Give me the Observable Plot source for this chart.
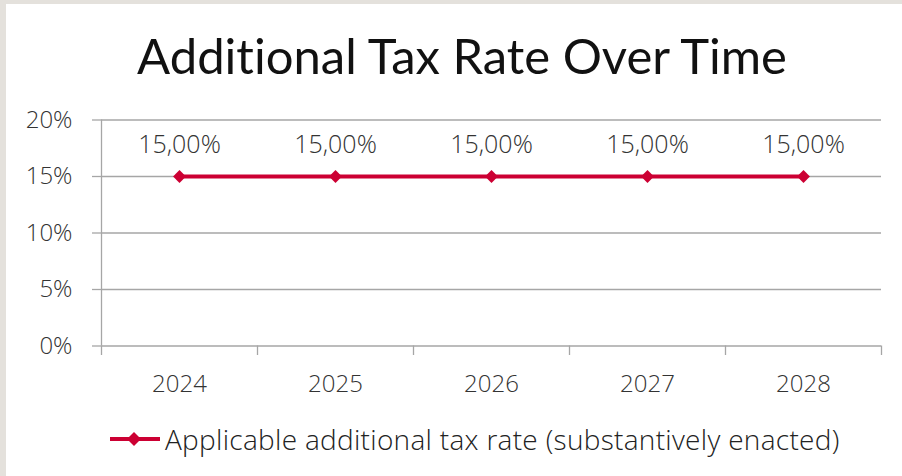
<!DOCTYPE html>
<html>
<head>
<meta charset="utf-8">
<script src="https://cdn.jsdelivr.net/npm/d3@7"></script>
<script src="https://cdn.jsdelivr.net/npm/@observablehq/plot@0.6"></script>
<style>
  html, body { margin: 0; padding: 0; width: 902px; height: 476px; overflow: hidden; background: #e4e1dc; }
  #card { position: absolute; left: 6px; top: 4px; right: 0; bottom: 0; background: #fff; }
  #title { position: absolute; left: 11px; top: 25px; width: 902px; text-align: center;
           font-family: "Lato", "Open Sans", sans-serif; font-size: 49px; line-height: 60px; color: #111; font-weight: 400;
           font-variant-ligatures: none; }
  #chart { position: absolute; left: 0; top: 100px; }
  #legend { position: absolute; left: 108px; top: 420px; display: flex; align-items: center;
            font-family: "Open Sans", sans-serif; font-weight: 300; font-size: 28px; letter-spacing: 0.3px; color: #222; }
  #legend svg { margin-right: 3px; }
</style>
</head>
<body>
<div id="card"></div>
<div id="title"></div>
<div id="chart"></div>
<div id="legend"></div>
<script>
const titleText = "Additional Tax Rate Over Time";
const years = [2024, 2025, 2026, 2027, 2028];
const rates = [15, 15, 15, 15, 15];
const yTicks = [0, 5, 10, 15, 20];
const seriesName = "Applicable additional tax rate (substantively enacted)";

const red = "#cc0033";
const gridColor = "#a6a6a6";

const data = years.map((y, i) => ({year: y, rate: rates[i]}));
const boundaries = [...years.map(y => y - 0.5), years[years.length - 1] + 0.5];
const fmtRate = v => v.toFixed(2).replace(".", ",") + "%";

document.getElementById("title").textContent = titleText;

const chart = Plot.plot({
  width: 902,
  height: 310,
  marginLeft: 101,
  marginRight: 21,
  marginTop: 19.5,
  marginBottom: 64.5,
  x: {domain: [boundaries[0], boundaries[boundaries.length - 1]]},
  y: {domain: [0, 20]},
  style: {fontFamily: "'Open Sans', sans-serif", fontSize: "24px", color: "#333", background: "transparent"},
  marks: [
    Plot.gridY(yTicks, {stroke: gridColor, strokeOpacity: 1, strokeWidth: 1.3}),
    Plot.axisY(yTicks, {label: null, tickSize: 9, tickPadding: 20, tickFormat: d => d + "%", stroke: gridColor, strokeWidth: 1.3, fill: "#333", fontWeight: 300, fontSize: 24}),
    Plot.ruleX([boundaries[0]], {y1: 0, y2: 20, stroke: gridColor, strokeWidth: 1.3}),
    Plot.axisX(boundaries, {label: null, tickSize: 9.5, tickFormat: () => "", stroke: gridColor, strokeWidth: 1.3}),
    Plot.axisX(years, {label: null, tickSize: 0, tickPadding: 29, tickFormat: d => String(d), fill: "#333", fontWeight: 300, fontSize: 24}),
    Plot.line(data, {x: "year", y: "rate", stroke: red, strokeWidth: 4}),
    Plot.dot(data, {x: "year", y: "rate", symbol: "diamond2", r: 5.8, fill: red, stroke: "none"}),
    Plot.text(data, {x: "year", y: "rate", text: d => fmtRate(d.rate), dy: -32, fontSize: 25, fill: "#333", fontWeight: 300})
  ]
});
document.getElementById("chart").appendChild(chart);

const legend = document.getElementById("legend");
const sw = d3.create("svg").attr("width", 54).attr("height", 16);
sw.append("line").attr("x1", 2).attr("x2", 52).attr("y1", 8).attr("y2", 8).attr("stroke", red).attr("stroke-width", 4);
sw.append("path").attr("d", "M26,1 L33,8 L26,15 L19,8 Z").attr("fill", red);
legend.appendChild(sw.node());
const lt = document.createElement("span");
lt.textContent = seriesName;
legend.appendChild(lt);
</script>
</body>
</html>
